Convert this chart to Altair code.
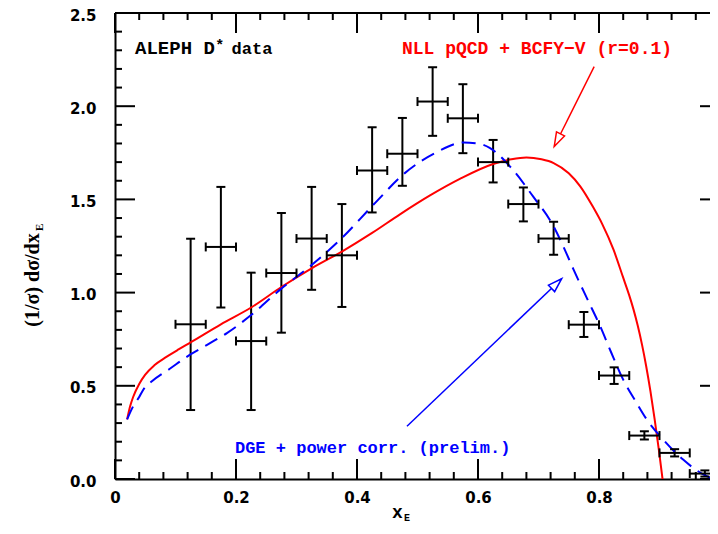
import altair as alt
import pandas as pd

# ---------------- data ----------------
pt_x = [0.125, 0.175, 0.225, 0.275, 0.325, 0.375, 0.425, 0.475, 0.525,
        0.575, 0.625, 0.675, 0.725, 0.775, 0.825, 0.875, 0.925, 0.975]
pt_y = [0.83, 1.245, 0.74, 1.105, 1.29, 1.20, 1.655, 1.745, 2.025,
        1.935, 1.70, 1.475, 1.29, 0.828, 0.555, 0.233, 0.140, 0.029]
pt_lo = [0.37, 0.92, 0.37, 0.785, 1.015, 0.923, 1.43, 1.573, 1.841,
         1.748, 1.591, 1.382, 1.203, 0.762, 0.510, 0.212, 0.121, 0.013]
pt_hi = [1.289, 1.567, 1.107, 1.427, 1.567, 1.475, 1.887, 1.937, 2.209,
         2.118, 1.819, 1.564, 1.38, 0.896, 0.599, 0.256, 0.160, 0.046]
x_half = 0.025

red_x = [0.020, 0.025, 0.030, 0.040, 0.050, 0.065, 0.085, 0.105, 0.125, 0.175,
         0.225, 0.275, 0.325, 0.375, 0.425, 0.471, 0.520, 0.570, 0.625, 0.655,
         0.680, 0.705, 0.725, 0.750, 0.769, 0.790, 0.805, 0.824, 0.840, 0.850,
         0.857, 0.864, 0.871, 0.878, 0.885, 0.892, 0.899, 0.905]
red_y = [0.32, 0.39, 0.44, 0.51, 0.56, 0.61, 0.655, 0.695, 0.733, 0.83,
         0.92, 1.03, 1.13, 1.22, 1.32, 1.42, 1.52, 1.61, 1.69, 1.715,
         1.725, 1.715, 1.695, 1.64, 1.57, 1.46, 1.37, 1.23, 1.08, 0.985,
         0.91, 0.823, 0.722, 0.605, 0.471, 0.32, 0.155, 0.0]

blue_x = [0.020, 0.030, 0.040, 0.047, 0.061, 0.090, 0.124, 0.155, 0.185, 0.226,
          0.273, 0.322, 0.372, 0.427, 0.479, 0.530, 0.576, 0.600, 0.620, 0.653,
          0.691, 0.725, 0.741, 0.758, 0.780, 0.802, 0.820, 0.840, 0.860, 0.879,
          0.906, 0.939, 0.960, 0.978, 0.990]
blue_y = [0.32, 0.39, 0.44, 0.48, 0.524, 0.59, 0.667, 0.725, 0.783, 0.882,
          1.016, 1.14, 1.283, 1.471, 1.641, 1.75, 1.805, 1.80, 1.775, 1.676,
          1.516, 1.355, 1.248, 1.123, 0.97, 0.819, 0.68, 0.533, 0.42, 0.319,
          0.212, 0.104, 0.05, 0.015, 0.0]

x_major = [0.0, 0.2, 0.4, 0.6, 0.8, 1.0]
x_minor = [0.04, 0.08, 0.12, 0.16, 0.24, 0.28, 0.32, 0.36, 0.44, 0.48, 0.52, 0.56,
           0.64, 0.68, 0.72, 0.76, 0.84, 0.88, 0.92, 0.96]
y_major = [0.0, 0.5, 1.0, 1.5, 2.0, 2.5]
y_minor = [0.1, 0.2, 0.3, 0.4, 0.6, 0.7, 0.8, 0.9, 1.1, 1.2, 1.3, 1.4,
           1.6, 1.7, 1.8, 1.9, 2.1, 2.2, 2.3, 2.4]

# ---------------- tables ----------------
pts = pd.DataFrame({"x": pt_x, "y": pt_y, "lo": pt_lo, "hi": pt_hi})
pts["xl"] = pts["x"] - x_half
pts["xr"] = pts["x"] + x_half
red = pd.DataFrame({"x": red_x, "y": red_y, "i": range(len(red_x))})
blue = pd.DataFrame({"x": blue_x, "y": blue_y, "i": range(len(blue_x))})

W, H = 605, 466
VIEW_W = 595
xs = alt.Scale(domain=[0, 1], range=[0, W], nice=False, zero=False)
ys = alt.Scale(domain=[0, 2.5], range=[H, 0], nice=False, zero=False)

BLACK = "#000000"
RED = "#ff0000"
BLUE = "#0000ff"
MONO = "Liberation Mono"
SERIF = "Liberation Serif"

x_axis = alt.Axis(values=x_major,
                  labelExpr="datum.value == 0 ? '0' : datum.value == 1 ? '1' : format(datum.value, '.1f')",
                  ticks=False, tickSize=0, grid=False, domain=True, domainColor=BLACK,
                  domainWidth=2, labelFont="DejaVu Sans", labelFontWeight="bold",
                  labelFontSize=15, labelColor=BLACK, labelPadding=11,
                  labelFlush=False, labelOverlap=False, title="")
y_axis = alt.Axis(values=y_major, format=".1f", ticks=False, tickSize=0, grid=False,
                  domain=True, domainColor=BLACK, domainWidth=2, labelFont="DejaVu Sans",
                  labelFontWeight="bold", labelFontSize=15, labelColor=BLACK,
                  labelPadding=19, labelOffset=2, labelFlush=False, labelOverlap=False, title="")


def X(f):
    return alt.X(f, type="quantitative", scale=xs, axis=x_axis)


def Y(f):
    return alt.Y(f, type="quantitative", scale=ys, axis=y_axis)


# ---------------- ticks / frame ----------------
def tick_layer(vals, horiz, p1, p2):
    d = pd.DataFrame({"v": vals})
    if horiz:
        return alt.Chart(d).mark_rule(color=BLACK, strokeWidth=2).encode(
            x=X("v"), y=alt.value(p1), y2=alt.value(p2))
    return alt.Chart(d).mark_rule(color=BLACK, strokeWidth=2).encode(
        y=Y("v"), x=alt.value(p1), x2=alt.value(p2))


ticks = [
    tick_layer(x_major, True, H, H - 20),
    tick_layer(x_minor, True, H, H - 7),
    tick_layer(x_major, True, 0, 20),
    tick_layer(x_minor, True, 0, 7),
    tick_layer(y_major, False, 0, 20),
    tick_layer(y_minor, False, 0, 7),
    tick_layer(y_major, False, W, W - 20),
    tick_layer(y_minor, False, W, W - 7),
]

frame_df = pd.DataFrame({"x0": [0.0], "x1": [1.0], "y0": [0.0], "y1": [2.5]})
top_rule = alt.Chart(frame_df).mark_rule(color=BLACK, strokeWidth=2).encode(
    x=X("x0"), x2="x1", y=Y("y1"))

# ---------------- curves ----------------
red_line = alt.Chart(red).mark_line(color=RED, strokeWidth=2, interpolate="monotone").encode(
    x=X("x"), y=Y("y"), order="i:Q")
blue_line = alt.Chart(blue).mark_line(color=BLUE, strokeWidth=2, interpolate="monotone",
                                      strokeDash=[14, 8]).encode(
    x=X("x"), y=Y("y"), order="i:Q")

# ---------------- error bars ----------------
vbar = alt.Chart(pts).mark_rule(color=BLACK, strokeWidth=2).encode(
    x=X("x"), y=Y("lo"), y2="hi")
hbar = alt.Chart(pts).mark_rule(color=BLACK, strokeWidth=2).encode(
    x=X("xl"), x2="xr", y=Y("y"))
cap_lo = alt.Chart(pts).mark_tick(color=BLACK, orient="horizontal", size=9, thickness=2, opacity=1).encode(
    x=X("x"), y=Y("lo"))
cap_hi = alt.Chart(pts).mark_tick(color=BLACK, orient="horizontal", size=9, thickness=2, opacity=1).encode(
    x=X("x"), y=Y("hi"))
cap_l = alt.Chart(pts).mark_tick(color=BLACK, orient="vertical", size=9, thickness=2, opacity=1).encode(
    x=X("xl"), y=Y("y"))
cap_r = alt.Chart(pts).mark_tick(color=BLACK, orient="vertical", size=9, thickness=2, opacity=1).encode(
    x=X("xr"), y=Y("y"))


# ---------------- annotations ----------------
def text_layer(x, y, s, color, size, angle=0, align="left", font=MONO):
    d = pd.DataFrame({"x": [x], "y": [y], "t": [s]})
    return alt.Chart(d).mark_text(font=font, fontWeight="bold", fontSize=size, color=color,
                                  align=align, baseline="alphabetic", angle=angle).encode(
        x=X("x"), y=Y("y"), text="t:N")


texts = [
    text_layer(0.0331, 2.28, "ALEPH D", BLACK, 19),
    text_layer(0.1730, 2.30, "*", BLACK, 15, align="center"),
    text_layer(0.1926, 2.28, "data", BLACK, 17),
    text_layer(0.4744, 2.28, "NLL pQCD + BCFY\u2212V (r=0.1)", RED, 18),
    text_layer(0.1983, 0.1404, "DGE + power corr. (prelim.)", BLUE, 17),
    text_layer(0.4669, -0.2117, "x", BLACK, 18, align="center"),
    text_layer(0.4777, -0.2278, "E", BLACK, 10),
    text_layer(-0.1256, 0.817, "(1/\u03c3) d\u03c3/dx", BLACK, 20, angle=270, font=SERIF),
    text_layer(-0.1190, 1.330, "E", BLACK, 11, angle=270, font=SERIF),
]

arrow_df = pd.DataFrame({
    "x0": [0.792, 0.4826], "y0": [2.212, 0.283],
    "x1": [0.726, 0.7383], "y1": [1.784, 1.0745],
    "c": ["r", "b"],
})
HEAD = "M0,0L-0.32,1L0.32,1Z"
red_shaft = alt.Chart(arrow_df[arrow_df.c == "r"]).mark_rule(color=RED, strokeWidth=1.5).encode(
    x=X("x0"), y=Y("y0"), x2="x1", y2="y1")
blue_shaft = alt.Chart(arrow_df[arrow_df.c == "b"]).mark_rule(color=BLUE, strokeWidth=1.5).encode(
    x=X("x0"), y=Y("y0"), x2="x1", y2="y1")
red_head = alt.Chart(arrow_df[arrow_df.c == "r"]).mark_point(
    shape=HEAD, size=784, angle=206.6, filled=True, fill="white", stroke=RED,
    strokeWidth=1.5, opacity=1).encode(x=X("x1"), y=Y("y1"))
blue_head = alt.Chart(arrow_df[arrow_df.c == "b"]).mark_point(
    shape=HEAD, size=784, angle=46.3, filled=True, fill="white", stroke=BLUE,
    strokeWidth=1.5, opacity=1).encode(x=X("x1"), y=Y("y1"))

chart = alt.layer(
    vbar, *ticks, top_rule, red_line, blue_line,
    hbar, cap_lo, cap_hi, cap_l, cap_r,
    red_shaft, blue_shaft, red_head, blue_head, *texts,
).properties(
    width=VIEW_W, height=H,
    autosize=alt.AutoSizeParams(type="none"),
    padding={"left": 107, "top": 5, "right": 0, "bottom": 47},
    background="white",
).configure_view(stroke="transparent")

chart.save("out.html", embed_options={"renderer": "svg", "actions": False})
